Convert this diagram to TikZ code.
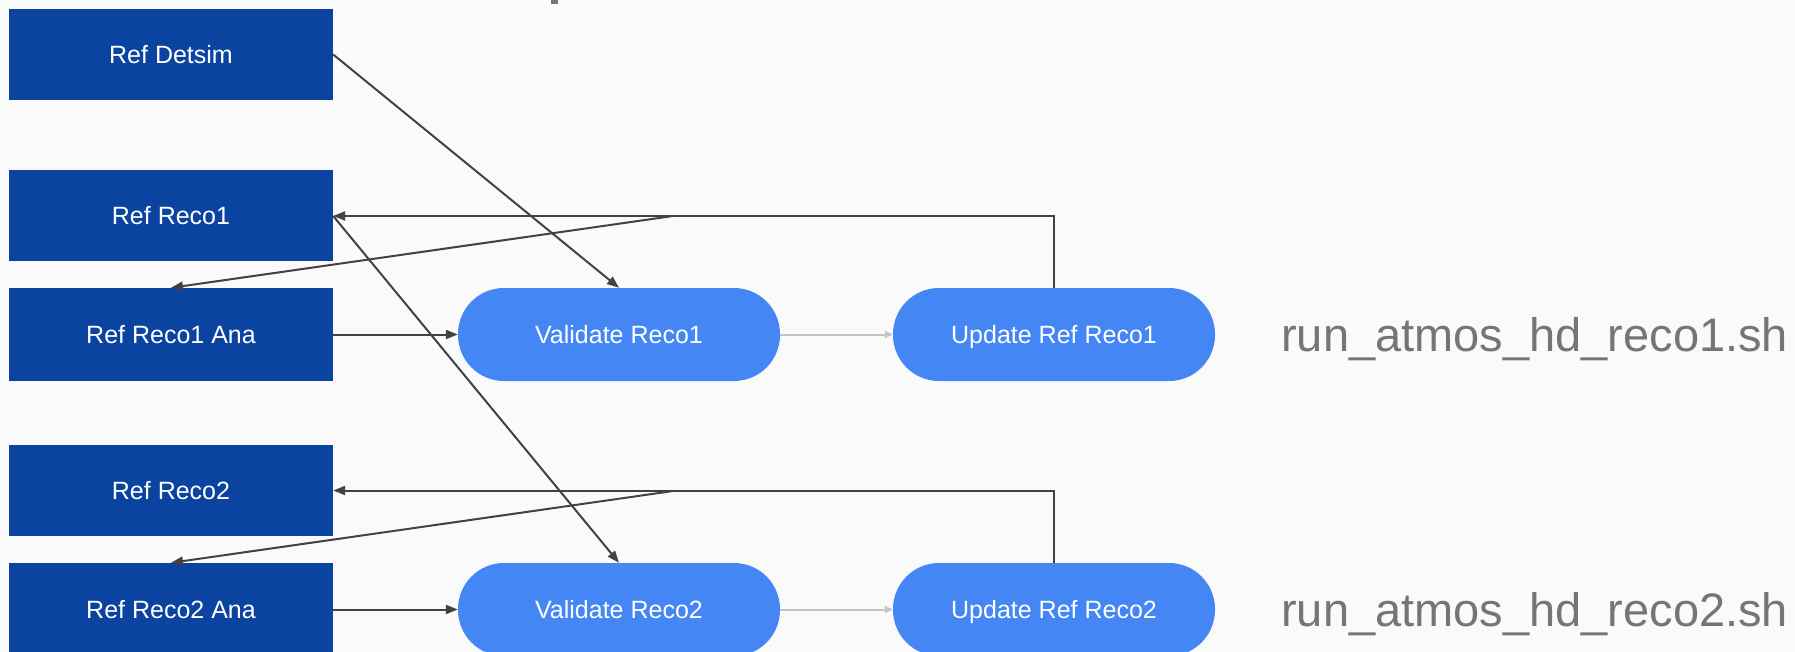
\documentclass[tikz,border=0pt]{standalone}
\usepackage{fontspec}
\setmainfont{Liberation Sans}
\usetikzlibrary{arrows.meta}
\definecolor{bgc}{HTML}{FAFAFA}
\definecolor{darkbox}{HTML}{0B43A0}
\definecolor{pill}{HTML}{4486F4}
\definecolor{linec}{HTML}{424242}
\definecolor{lightc}{HTML}{C4C4C4}
\definecolor{greytxt}{HTML}{757575}
\tikzset{
  refbox/.style={fill=darkbox, draw=none, minimum width=324pt, minimum height=91pt, inner sep=0pt,
    text=white, font=\fontsize{25}{30}\selectfont, text height=18pt, text depth=0pt},
  pillbox/.style={fill=pill, draw=none, rounded corners=46pt, minimum width=322pt, minimum height=93pt, inner sep=0pt,
    text=white, font=\fontsize{25}{30}\selectfont, text height=18pt, text depth=0pt},
  conn/.style={draw=linec, line width=2pt, -{Triangle[length=12pt,width=9pt]}},
  lightconn/.style={draw=lightc, line width=2pt, -{Triangle[length=8pt,width=7pt]}},
  scriptlbl/.style={text=greytxt, font=\fontsize{47}{56}\selectfont, inner sep=0pt, anchor=west}
}
\begin{document}
\begin{tikzpicture}[x=1pt,y=-1pt]
\useasboundingbox (0,0) rectangle (1795,652);
\clip (0,0) rectangle (1795,652);
\fill[bgc] (0,0) rectangle (1795,652);
\fill[greytxt] (551,0) rectangle (558,4);

\node[refbox] (detsim) at (171,54.5) {Ref Detsim};
\node[refbox] (reco1) at (171,216) {Ref Reco1};
\node[refbox, minimum height=93pt] (ana1) at (171,334.5) {Ref Reco1 Ana};
\node[refbox] (reco2) at (171,490.5) {Ref Reco2};
\node[refbox, minimum height=93pt] (ana2) at (171,609.5) {Ref Reco2 Ana};

\node[pillbox] (val1) at (619,334.5) {Validate Reco1};
\node[pillbox] (upd1) at (1054,334.5) {Update Ref Reco1};
\node[pillbox] (val2) at (619,609.5) {Validate Reco2};
\node[pillbox] (upd2) at (1054,609.5) {Update Ref Reco2};

\node[scriptlbl] (sh1) at (1281,339) {run\_atmos\_hd\_reco1.sh};
\node[scriptlbl] (sh2) at (1281,614) {run\_atmos\_hd\_reco2.sh};

\coordinate (j1) at (673,216);
\coordinate (j2) at (673,491);

\draw[conn] (detsim.east) -- (val1.north);
\draw[conn] (reco1.east) -- (val2.north);
\draw[conn] (upd1.north) |- (reco1.east);
\draw[conn] (j1) -- (ana1.north);
\draw[conn] (ana1.east) -- (val1.west);
\draw[lightconn] (val1.east) -- (upd1.west);

\draw[conn] (upd2.north) |- (reco2.east);
\draw[conn] (j2) -- (ana2.north);
\draw[conn] (ana2.east) -- (val2.west);
\draw[lightconn] (val2.east) -- (upd2.west);
\end{tikzpicture}
\end{document}
